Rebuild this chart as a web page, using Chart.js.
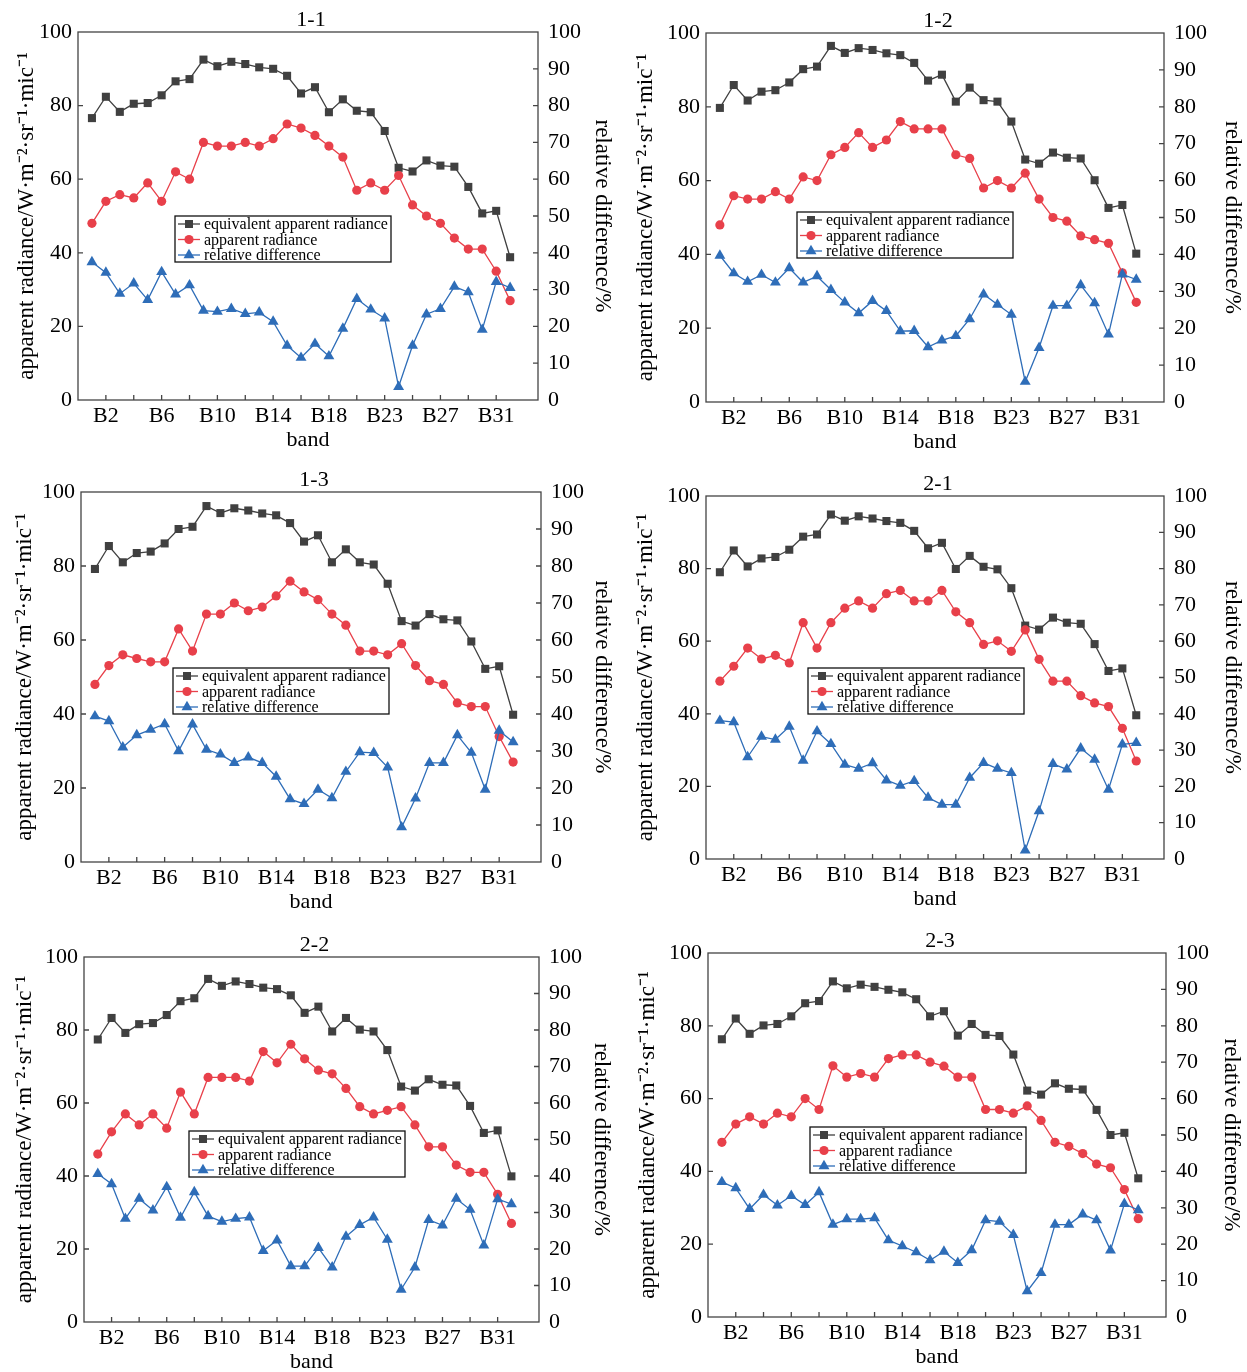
<!DOCTYPE html>
<html>
<head>
<meta charset="utf-8">
<script src="https://cdn.jsdelivr.net/npm/chart.js@4.4.0/dist/chart.umd.min.js"></script>
<style>
  html, body { margin: 0; padding: 0; background: #fff; overflow: hidden; }
  #root { position: relative; width: 1247px; height: 1372px; background: #fff; }
  .panel { position: absolute; }
</style>
</head>
<body>
<div id="root"></div>
<script>
// ========== データ ==========
const bands = ['B1','B2','B3','B4','B5','B6','B7','B8','B9','B10','B11','B12','B13','B14','B15','B16',
  'B17','B18','B19','B21','B22','B23','B24','B25','B26','B27','B28','B29','B30','B31','B32'];
const labeledBands = ['B2','B6','B10','B14','B18','B23','B27','B31'];
const leftTicks = [0, 20, 40, 60, 80, 100];
const rightTicks = [0, 10, 20, 30, 40, 50, 60, 70, 80, 90, 100];
const seriesNames = ['equivalent apparent radiance', 'apparent radiance', 'relative difference'];

const equiv11 = [76.6, 82.4, 78.3, 80.5, 80.7, 82.8, 86.6, 87.2, 92.5, 90.7, 91.9, 91.3, 90.4, 90.0, 88.1, 83.3, 85.0, 78.2, 81.7, 78.6, 78.2, 73.1, 63.1, 62.1, 65.1, 63.7, 63.4, 57.9, 50.7, 51.4, 38.8];
const appar11 = [48, 54, 55.8, 54.9, 59, 54, 62, 60, 70, 69, 69, 70, 69, 71, 75, 73.9, 71.9, 69, 66, 57, 59, 57, 61, 53, 50, 48, 44, 41, 41, 35, 27];
const rel11 = [37.5, 34.6, 28.9, 31.7, 27.2, 34.8, 28.7, 31.2, 24.3, 24.0, 24.8, 23.4, 23.8, 21.3, 14.8, 11.5, 15.3, 11.9, 19.4, 27.5, 24.6, 22.2, 3.6, 14.8, 23.3, 24.8, 30.8, 29.3, 19.1, 32.1, 30.5];

const equiv12 = [79.7, 85.9, 81.7, 84.1, 84.5, 86.6, 90.2, 90.9, 96.5, 94.6, 95.9, 95.4, 94.5, 94.0, 91.9, 87.1, 88.7, 81.4, 85.2, 81.8, 81.4, 76.0, 65.7, 64.6, 67.6, 66.2, 66.0, 60.1, 52.6, 53.4, 40.2];
const appar12 = [48, 55.9, 55, 55, 57, 55, 61, 60, 67, 69, 73, 69, 71, 76, 74, 74, 74, 67, 66, 58, 60, 58, 62, 55, 50, 49, 45, 44, 43, 35, 27];
const rel12 = [39.7, 34.9, 32.6, 34.5, 32.4, 36.3, 32.4, 34.1, 30.4, 27.0, 24.1, 27.4, 24.7, 19.2, 19.3, 14.9, 16.7, 17.9, 22.5, 29.2, 26.4, 23.7, 5.5, 14.7, 26.1, 26.1, 31.7, 26.8, 18.3, 34.6, 33.2];

const equiv13 = [79.2, 85.4, 81.0, 83.5, 83.9, 86.1, 90.0, 90.6, 96.2, 94.3, 95.6, 95.0, 94.2, 93.7, 91.6, 86.6, 88.3, 81.0, 84.5, 81.0, 80.4, 75.2, 65.1, 63.9, 67.0, 65.6, 65.3, 59.6, 52.2, 52.9, 39.8];
const appar13 = [48, 53.1, 56, 55, 54.1, 54.1, 63, 57, 67, 67, 70, 67.9, 68.9, 71.9, 75.9, 73, 70.9, 67, 64, 57, 57, 56, 59, 53.1, 49, 48, 43, 42, 42, 33.9, 27];
const rel13 = [39.4, 38.1, 31.0, 34.3, 35.8, 37.3, 30.0, 37.2, 30.4, 29.1, 26.8, 28.3, 26.8, 23.1, 17.0, 15.7, 19.6, 17.3, 24.4, 29.7, 29.5, 25.6, 9.4, 17.2, 26.8, 26.8, 34.3, 29.6, 19.6, 35.5, 32.4];

const equiv21 = [79.0, 85.0, 80.6, 82.8, 83.2, 85.2, 88.8, 89.4, 94.9, 93.2, 94.4, 93.8, 93.1, 92.6, 90.4, 85.6, 87.1, 79.9, 83.5, 80.5, 79.8, 74.6, 64.3, 63.2, 66.5, 65.1, 64.8, 59.2, 51.8, 52.5, 39.6];
const appar21 = [49, 53.1, 58.1, 55.1, 56.1, 54, 65.1, 58.1, 65.1, 69.1, 71.1, 69.1, 73.1, 74, 71.1, 71.1, 74, 68.1, 65.1, 59.1, 60.1, 57.2, 63.1, 55, 49, 49, 45, 43, 42, 36, 27];
const rel21 = [38.1, 37.7, 28.1, 33.7, 32.9, 36.5, 27.1, 35.2, 31.7, 26.0, 24.9, 26.4, 21.7, 20.2, 21.5, 16.9, 15.0, 15.0, 22.4, 26.5, 24.9, 23.7, 2.4, 13.2, 26.2, 24.7, 30.5, 27.4, 19.1, 31.6, 32.0];

const equiv22 = [77.4, 83.3, 79.2, 81.6, 81.9, 84.1, 87.9, 88.7, 94.0, 92.1, 93.3, 92.6, 91.6, 91.2, 89.5, 84.7, 86.4, 79.6, 83.3, 80.1, 79.6, 74.5, 64.5, 63.4, 66.5, 65.0, 64.8, 59.2, 51.8, 52.5, 39.9];
const appar22 = [46, 52.1, 57, 54, 57, 53.1, 63, 57, 67, 67, 67, 66, 74.1, 71, 76.1, 72.1, 69, 68, 64, 59, 57, 58, 59, 54, 48, 48, 43, 41, 41, 35, 27];
const rel22 = [40.6, 37.8, 28.3, 33.8, 30.6, 37.0, 28.6, 35.6, 29.0, 27.5, 28.3, 28.7, 19.5, 22.4, 15.3, 15.3, 20.3, 15.0, 23.4, 26.6, 28.7, 22.6, 8.9, 15.0, 28.0, 26.5, 33.8, 30.8, 21.0, 33.7, 32.3];

const equiv23 = [76.3, 82.0, 77.8, 80.1, 80.5, 82.6, 86.2, 86.8, 92.2, 90.3, 91.3, 90.7, 89.9, 89.2, 87.3, 82.6, 84.0, 77.3, 80.5, 77.5, 77.2, 72.1, 62.2, 61.1, 64.2, 62.7, 62.5, 56.9, 50.0, 50.6, 38.1];
const appar23 = [48, 53, 55, 53, 56, 55, 60, 57, 69, 65.9, 66.9, 65.9, 71, 72, 72, 70, 68.9, 65.9, 65.9, 57, 57, 56, 58, 54, 48, 46.9, 44.9, 42, 41, 35, 27];
const rel23 = [37.1, 35.4, 29.7, 33.6, 30.7, 33.3, 30.8, 34.3, 25.4, 26.9, 26.9, 27.2, 21.1, 19.5, 17.8, 15.6, 18.0, 14.9, 18.4, 26.6, 26.2, 22.6, 7.1, 12.1, 25.4, 25.4, 28.2, 26.6, 18.3, 31.1, 29.4];

// ========== レイアウト ==========
const FONT = "'Liberation Serif', 'Times New Roman', serif";
const AXIS_L = 76, AXIS_R = 82, TITLE_H = 32, AXIS_B = 60;
const COLORS = { equiv: '#404040', appar: '#e8404a', rel: '#2e6db8' };

const panels = [
  { title: '1-1', equiv: equiv11, appar: appar11, rel: rel11, left: 78, top: 32, w: 460, h: 368, yTitleX: 27, rTitleX: 602, legX: 97, legY: 184 },
  { title: '1-2', equiv: equiv12, appar: appar12, rel: rel12, left: 706, top: 32.5, w: 458, h: 369, yTitleX: 646, rTitleX: 1233, legX: 91, legY: 179 },
  { title: '1-3', equiv: equiv13, appar: appar13, rel: rel13, left: 81, top: 492, w: 460, h: 370, yTitleX: 25, rTitleX: 602, legX: 92, legY: 176 },
  { title: '2-1', equiv: equiv21, appar: appar21, rel: rel21, left: 706, top: 495.5, w: 458, h: 363, yTitleX: 646, rTitleX: 1233, legX: 102, legY: 172 },
  { title: '2-2', equiv: equiv22, appar: appar22, rel: rel22, left: 84, top: 957, w: 455, h: 365, yTitleX: 25, rTitleX: 601, legX: 105, legY: 174 },
  { title: '2-3', equiv: equiv23, appar: appar23, rel: rel23, left: 708, top: 953, w: 458, h: 364, yTitleX: 648, rTitleX: 1231, legX: 102, legY: 174 },
];

// ========== ヘルパー ==========
function drawMarker(ctx, style, x, y, r, color) {
  ctx.fillStyle = color;
  ctx.beginPath();
  if (style === 'rect') {
    const s = r * Math.SQRT1_2;
    ctx.rect(x - s, y - s, 2 * s, 2 * s);
  } else if (style === 'circle') {
    ctx.arc(x, y, r, 0, Math.PI * 2);
  } else {
    ctx.moveTo(x, y - r);
    ctx.lineTo(x + r * Math.sin(Math.PI / 3), y + r / 2);
    ctx.lineTo(x - r * Math.sin(Math.PI / 3), y + r / 2);
    ctx.closePath();
  }
  ctx.fill();
}

// 枠・内向き目盛り・凡例
const framePlugin = {
  id: 'frameTicks',
  afterDatasetsDraw(chart, args, opts) {
    const { ctx, chartArea: a, scales } = chart;
    ctx.save();
    ctx.strokeStyle = '#444';
    ctx.lineWidth = 1.3;
    ctx.strokeRect(a.left, a.top, a.right - a.left, a.bottom - a.top);
    ctx.beginPath();
    scales.x.ticks.forEach(t => {
      const px = scales.x.getPixelForValue(t.value);
      ctx.moveTo(px, a.bottom);
      ctx.lineTo(px, a.bottom - 5);
    });
    scales.y.ticks.forEach(t => {
      if (t.value <= 0 || t.value >= 100) return;
      const py = scales.y.getPixelForValue(t.value);
      ctx.moveTo(a.left, py);
      ctx.lineTo(a.left + 5, py);
    });
    scales.y1.ticks.forEach(t => {
      if (t.value <= 0 || t.value >= 100) return;
      const py = scales.y1.getPixelForValue(t.value);
      ctx.moveTo(a.right, py);
      ctx.lineTo(a.right - 5, py);
    });
    ctx.stroke();

    // 凡例
    const bx = a.left + opts.x, by = a.top + opts.y;
    const bw = 216, bh = 46;
    ctx.fillStyle = '#fff';
    ctx.fillRect(bx, by, bw, bh);
    ctx.strokeStyle = '#111';
    ctx.strokeRect(bx, by, bw, bh);
    const items = [
      { color: COLORS.equiv, style: 'rect', r: 5.7 },
      { color: COLORS.appar, style: 'circle', r: 4.6 },
      { color: COLORS.rel, style: 'triangle', r: 6.3 },
    ];
    ctx.font = `16px ${FONT}`;
    ctx.textBaseline = 'middle';
    items.forEach((it, i) => {
      const ry = by + 8 + i * 15.5;
      ctx.strokeStyle = it.color;
      ctx.lineWidth = 1.3;
      ctx.beginPath();
      ctx.moveTo(bx + 3, ry);
      ctx.lineTo(bx + 25, ry);
      ctx.stroke();
      drawMarker(ctx, it.style, bx + 14, ry, it.r, it.color);
      ctx.fillStyle = '#000';
      ctx.fillText(seriesNames[i], bx + 29, ry + 1);
    });
    ctx.restore();
  }
};

function toPoints(values) {
  return values.map((v, i) => ({ x: i, y: v }));
}

// ========== レンダリング ==========
function renderPanel(p) {
  const canvasLeft = p.left - AXIS_L;
  const canvasTop = p.top - TITLE_H;
  const width = Math.round(p.w + AXIS_L + AXIS_R);
  const height = Math.round(p.h + TITLE_H + AXIS_B);

  const wrap = document.createElement('div');
  wrap.className = 'panel';
  wrap.style.left = canvasLeft + 'px';
  wrap.style.top = canvasTop + 'px';
  const canvas = document.createElement('canvas');
  canvas.width = width;
  canvas.height = height;
  canvas.style.width = width + 'px';
  canvas.style.height = height + 'px';
  wrap.appendChild(canvas);
  document.getElementById('root').appendChild(wrap);

  const tickFont = { family: FONT, size: 22 };
  const titleFont = { family: FONT, size: 23 };
  const rightEdge = canvasLeft + width;

  new Chart(canvas, {
    type: 'line',
    data: {
      datasets: [
        {
          label: seriesNames[0], data: toPoints(p.equiv), yAxisID: 'y', order: 2,
          borderColor: COLORS.equiv, backgroundColor: COLORS.equiv, borderWidth: 1.3,
          pointStyle: 'rect', pointRadius: 5.7, pointBorderWidth: 0, pointBackgroundColor: COLORS.equiv,
        },
        {
          label: seriesNames[1], data: toPoints(p.appar), yAxisID: 'y', order: 1,
          borderColor: COLORS.appar, backgroundColor: COLORS.appar, borderWidth: 1.3,
          pointStyle: 'circle', pointRadius: 4.6, pointBorderWidth: 0, pointBackgroundColor: COLORS.appar,
        },
        {
          label: seriesNames[2], data: toPoints(p.rel), yAxisID: 'y1', order: 0,
          borderColor: COLORS.rel, backgroundColor: COLORS.rel, borderWidth: 1.3,
          pointStyle: 'triangle', pointRadius: 6.3, pointBorderWidth: 0, pointBackgroundColor: COLORS.rel,
        },
      ],
    },
    options: {
      responsive: false,
      animation: false,
      devicePixelRatio: 1,
      layout: { padding: 0 },
      plugins: {
        legend: { display: false },
        tooltip: { enabled: false },
        title: {
          display: true, text: p.title, color: '#000',
          font: { family: FONT, size: 22, weight: 'normal', lineHeight: 1 },
          padding: { top: 9, bottom: 1 },
        },
        frameTicks: { x: p.legX, y: p.legY },
      },
      scales: {
        x: {
          type: 'linear', min: -1, max: 32,
          afterBuildTicks: s => { s.ticks = bands.map((b, i) => ({ value: i })).filter(t => t.value % 2 === 1); },
          afterFit: s => { s.height = AXIS_B; },
          grid: { display: false, drawTicks: false },
          border: { display: false },
          ticks: {
            autoSkip: false, maxRotation: 0, padding: 3, color: '#000', font: tickFont,
            callback: v => labeledBands.includes(bands[v]) ? bands[v] : '',
          },
          title: { display: true, text: 'band', color: '#000', font: tickFont, padding: { top: 0, bottom: 6.8 } },
        },
        y: {
          position: 'left', min: 0, max: 100,
          afterBuildTicks: s => { s.ticks = leftTicks.map(v => ({ value: v })); },
          afterFit: s => { s.width = AXIS_L; },
          grid: { display: false, drawTicks: false },
          border: { display: false },
          ticks: { padding: 6, color: '#000', font: tickFont },
          title: {
            display: true, text: 'apparent radiance/W·m⁻²·sr⁻¹·mic⁻¹', color: '#000', font: titleFont,
            padding: { top: Math.max(0, p.yTitleX - canvasLeft - 13.8), bottom: 0 },
          },
        },
        y1: {
          position: 'right', min: 0, max: 100,
          afterBuildTicks: s => { s.ticks = rightTicks.map(v => ({ value: v })); },
          afterFit: s => { s.width = AXIS_R; },
          grid: { display: false, drawTicks: false },
          border: { display: false },
          ticks: { padding: 10, color: '#000', font: tickFont },
          title: {
            display: true, text: 'relative difference/%', color: '#000', font: titleFont,
            padding: { top: Math.max(0, rightEdge - p.rTitleX - 13.8), bottom: 0 },
          },
        },
      },
    },
    plugins: [framePlugin],
  });
}

// ========== 初期化 ==========
function init() {
  panels.forEach(renderPanel);
}

document.addEventListener('DOMContentLoaded', init);
</script>
</body>
</html>
